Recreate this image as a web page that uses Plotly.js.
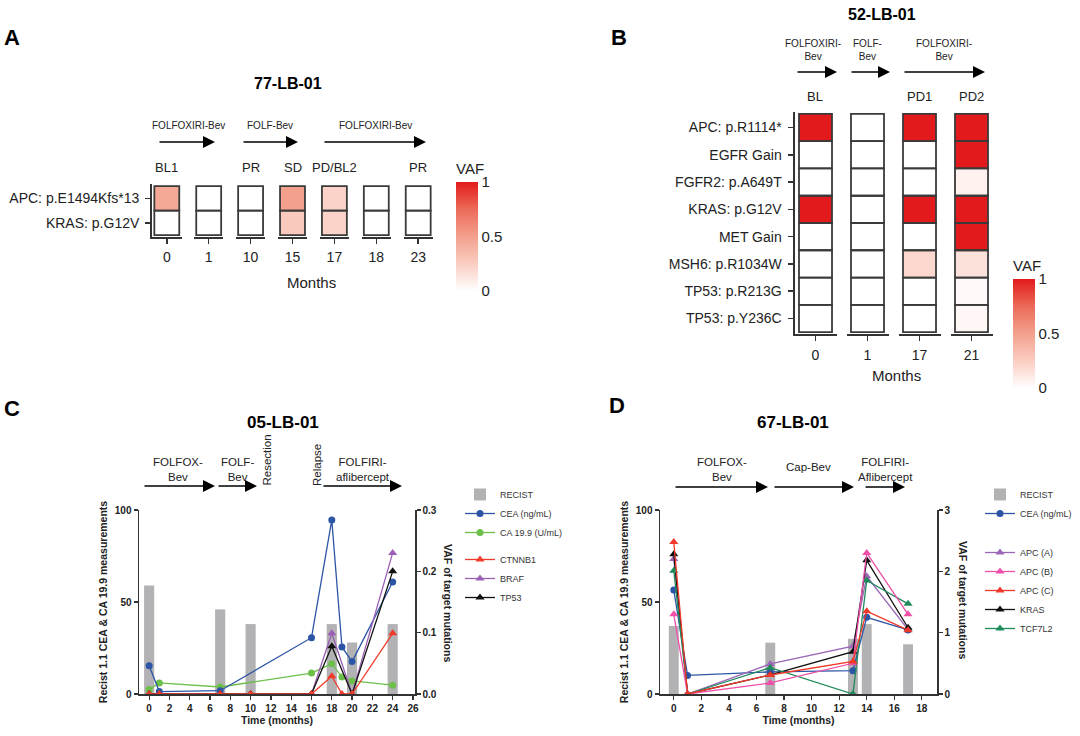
<!DOCTYPE html>
<html><head><meta charset="utf-8">
<script src="https://cdn.plot.ly/plotly-3.0.1.min.js"></script>
<style>html,body{margin:0;padding:0;background:#fff}#chart{width:1080px;height:736px}</style>
</head><body><div id="chart"></div><script>
// ================= DATA =================
// Panel A : 77-LB-01
const aMonths = ['0','1','10','15','17','18','23'];
const aStatus = ['BL1','','PR','SD','PD/BL2','','PR'];
const aGenes = ['APC: p.E1494Kfs*13','KRAS: p.G12V'];
const aAPC  = [0.45,0,0,0.5,0.22,0,0];
const aKRAS = [0,0,0,0.27,0.22,0,0];
const aTreat = ['FOLFOXIRI-Bev','FOLF-Bev','FOLFOXIRI-Bev'];

// Panel B : 52-LB-01
const bMonths = ['0','1','17','21'];
const bStatus = ['BL','','PD1','PD2'];
const bGenes = ['APC: p.R1114*','EGFR Gain','FGFR2: p.A649T','KRAS: p.G12V','MET Gain','MSH6: p.R1034W','TP53: p.R213G','TP53: p.Y236C'];
const bAPC   = [1,0,1,1];
const bEGFR  = [0,0,0,1];
const bFGFR2 = [0,0,0,0.07];
const bKRAS  = [1,0,1,1];
const bMET   = [0,0,0,1];
const bMSH6  = [0,0,0.2,0.15];
const bTP53a = [0,0,0,0.03];
const bTP53b = [0,0,0,0.04];
const bTreat = ['FOLFOXIRI-<br>Bev','FOLF-<br>Bev','FOLFOXIRI-<br>Bev'];

// Panel C : 05-LB-01
const cRecistT = [0,7,10,18,20,24];
const cRecist  = [59,46,38,38,28,38];
const cMarkT   = [0,1,7,16,18,19,20,24];
const cCea     = [15.4,1.3,1.8,30.6,94.6,25.6,17.6,60.9];
const cCa      = [2.4,6,3.8,11.4,16.5,9.2,7.1,4.8];
const cMutT    = [0,1,7,10,16,18,20,24];
const cBraf    = [0,0,0,0,0,0.099,0,0.23];
const cTp53    = [0,0,0,0,0,0.078,0,0.2];
const cCtnnbT  = [0,1,7,10,16,18,19,20,24];
const cCtnnb   = [0,0,0,0,0,0.029,0,0,0.099];
const cTreat   = ['FOLFOX-<br>Bev','FOLF-<br>Bev','FOLFIRI-<br>aflibercept'];
const cEvents  = ['Resection','Relapse'];

// Panel D : 67-LB-01
const dRecistT = [0,7,13,14,17];
const dRecist  = [37,27.9,30,38,27];
const dT       = [0,1,7,13,14,17];
const dCea     = [56.5,10.1,12,12.7,41.7,34.8];
const dApcA    = [2.2,0,0.49,0.78,1.92,1.05];
const dApcB    = [1.3,0,0.18,0.5,2.3,1.3];
const dApcC    = [2.48,0,0.31,0.53,1.35,1.04];
const dKras    = [2.28,0,0.31,0.69,2.18,1.08];
const dTcf     = [2.01,0,0.43,0,1.85,1.47];
const dTreat   = ['FOLFOX-<br>Bev','Cap-Bev','FOLFIRI-<br>Aflibercept'];

// ================= LAYOUT HELPERS =================
const W = 1080, H = 736;
const px = v => v / W;
const py = v => 1 - v / H;
const domX = (a, b) => [a / W, b / W];
const domY = (top, bot) => [1 - bot / H, 1 - top / H];
const FONT = 'Liberation Sans, Arial, Helvetica, sans-serif';
const INK = '#222';
const LINE = '#333';
const vafScale = [[0,'#ffffff'],[0.25,'#facdc1'],[0.5,'#f3a08d'],[0.75,'#ec6a58'],[1,'#e31a1c']];

const traces = [];
const layout = {
  width: W, height: H, margin: {l:0,r:0,t:0,b:0},
  paper_bgcolor: '#fff', plot_bgcolor: 'rgba(0,0,0,0)',
  font: {family: FONT, color: INK},
  showlegend: true, hovermode: false,
  annotations: [], shapes: []
};
const ann = a => layout.annotations.push(Object.assign({xref:'paper', yref:'paper', xanchor:'center', yanchor:'middle',
  showarrow:false, font:{family:FONT, color:INK}}, a));
const arrow = (x0, x1, y) => ann({x: px(x1), y: py(y), ax: -(x1 - x0), ay: 0, text: '', showarrow: true,
  arrowhead: 2, arrowsize: 1.6, arrowwidth: 1.5, arrowcolor: '#000', standoff: 0});

// ================= HEATMAP PANELS =================
function heatPanel(cfg) {
  const rowsBT = cfg.rows.slice().reverse();
  const valsBT = cfg.vals.slice().reverse();
  const yKey = 'yaxis' + cfg.yIdx;
  const yRef = 'y' + cfg.yIdx;
  cfg.months.forEach((m, i) => {
    const n = cfg.firstAxis + i;
    const xKey = 'xaxis' + (n === 1 ? '' : n);
    const xRef = 'x' + (n === 1 ? '' : n);
    const c = cfg.center0 + cfg.pitch * i;
    layout[xKey] = {
      domain: domX(c - cfg.half, c + cfg.half), anchor: yRef, type: 'category',
      range: [-0.5 - cfg.e, 0.5 + cfg.e], showline: true, linecolor: LINE, linewidth: 2,
      ticks: 'outside', ticklen: 5, tickwidth: 1.5, tickcolor: LINE,
      tickfont: {size: 14, color: INK, family: FONT}, ticklabelstandoff: cfg.xStand,
      showgrid: false, zeroline: false, fixedrange: true
    };
    traces.push({
      type: 'heatmap', x: [m], y: rowsBT, z: valsBT.map(r => [r[i]]),
      xaxis: xRef, yaxis: yRef, zmin: 0, zmax: 1, colorscale: vafScale,
      showscale: i === 0, colorbar: cfg.colorbar, showlegend: false, hoverinfo: 'skip'
    });
    rowsBT.forEach((r, k) => layout.shapes.push({type: 'rect', xref: xRef, yref: yRef,
      x0: -0.5, x1: 0.5, y0: k - 0.5, y1: k + 0.5, line: {color: '#3a3a3a', width: 1.8}, fillcolor: 'rgba(0,0,0,0)'}));
    if (cfg.status[i]) ann({x: px(c), y: py(cfg.statusY), text: cfg.status[i], font: {size: 13, family: FONT, color: INK}});
  });
  const xFirst = 'x' + (cfg.firstAxis === 1 ? '' : cfg.firstAxis);
  layout[yKey] = {
    domain: domY(cfg.yTop, cfg.yBot), anchor: xFirst, type: 'category',
    categoryorder: 'array', categoryarray: rowsBT, range: [-0.5 - cfg.ey, rowsBT.length - 0.5 + cfg.ey],
    showline: true, linecolor: LINE, linewidth: 2, ticks: 'outside', ticklen: 5, tickwidth: 1.5, tickcolor: LINE,
    tickfont: {size: 14, color: INK, family: FONT}, ticklabelstandoff: 3,
    showgrid: false, zeroline: false, fixedrange: true
  };
}

const cbar = (x, yBottom, barLen) => ({x: px(x), xanchor: 'left', xpad: 0, y: py(yBottom), yanchor: 'bottom', ypad: 0,
  len: barLen + 24, lenmode: 'pixels', thickness: 22, thicknessmode: 'pixels', outlinewidth: 0,
  tickvals: [0,0.5,1], ticktext: ['0','0.5','1'], ticks: '', tickfont: {size: 15, color: INK, family: FONT},
  title: {text: 'VAF', side: 'top', font: {size: 15, color: INK, family: FONT}}});

heatPanel({
  months: aMonths, status: aStatus, statusY: 167, rows: aGenes, vals: [aAPC, aKRAS],
  firstAxis: 1, yIdx: '', center0: 166.8, pitch: 41.9, half: 14.7, e: 0.09, ey: 0.09,
  yTop: 184, yBot: 237.4, xStand: 1, colorbar: cbar(456, 291, 107)
});
heatPanel({
  months: bMonths, status: bStatus, statusY: 96, rows: bGenes,
  vals: [bAPC, bEGFR, bFGFR2, bKRAS, bMET, bMSH6, bTP53a, bTP53b],
  firstAxis: 8, yIdx: 2, center0: 815.5, pitch: 52, half: 21, e: 0.136, ey: 0.07,
  yTop: 112, yBot: 334, xStand: 2, colorbar: cbar(1013, 388, 107)
});

// panel A annotations
ann({x: px(12), y: py(38), text: '<b>A</b>', font: {size: 22, family: FONT, color: '#000'}});
ann({x: px(288), y: py(84), text: '<b>77-LB-01</b>', font: {size: 16, family: FONT, color: '#000'}});
[[188,158,215],[270,242,298],[375,323,426]].forEach((p, i) => {
  ann({x: px(p[0]), y: py(125), text: aTreat[i], font: {size: 10, family: FONT, color: INK}});
  arrow(p[1], p[2], 142);
});
ann({x: px(312), y: py(282), text: 'Months', font: {size: 15, family: FONT, color: INK}});

// panel B annotations
ann({x: px(619), y: py(37), text: '<b>B</b>', font: {size: 22, family: FONT, color: '#000'}});
ann({x: px(882), y: py(15), text: '<b>52-LB-01</b>', font: {size: 16, family: FONT, color: '#000'}});
[[813,796,837],[867,850,890],[944,903,985]].forEach((p, i) => {
  ann({x: px(p[0]), y: py(50), text: bTreat[i], font: {size: 10, family: FONT, color: INK}});
  arrow(p[1], p[2], 72);
});
ann({x: px(896), y: py(375), text: 'Months', font: {size: 15, family: FONT, color: INK}});

// ================= LINE PANELS =================
const tickB = {size: 10, color: INK, family: FONT, weight: 'bold'};
const titleB = {size: 10.5, color: INK, family: FONT, weight: 'bold'};
function lineAxes(xKey, yL, yR, xRefS, yLRef, xd, xr, xmax, rMax, rTicks) {
  layout[xKey] = {domain: domX(xd[0], xd[1]), anchor: yLRef, range: xr,
    tickmode: 'array', tickvals: Array.from({length: xmax / 2 + 1}, (_, k) => k * 2),
    showline: true, linecolor: LINE, linewidth: 1.5, ticks: 'outside', ticklen: 4, tickwidth: 1.3, tickcolor: LINE,
    tickfont: tickB, title: {text: 'Time (months)', font: titleB, standoff: 4},
    showgrid: false, zeroline: false, fixedrange: true};
  layout[yL] = {domain: domY(510, 694), anchor: xRefS, range: [0, 100], tickvals: [0, 50, 100],
    showline: true, linecolor: LINE, linewidth: 1.5, ticks: 'outside', ticklen: 4, tickwidth: 1.3, tickcolor: LINE,
    tickfont: tickB, title: {text: 'Recist 1.1 CEA & CA 19.9 measurements', font: titleB, standoff: 5},
    showgrid: false, zeroline: false, fixedrange: true};
  layout[yR] = {overlaying: yLRef, side: 'right', anchor: xRefS, range: [0, rMax], tickvals: rTicks.v, ticktext: rTicks.t,
    showline: true, linecolor: LINE, linewidth: 1.5, ticks: 'outside', ticklen: 4, tickwidth: 1.3, tickcolor: LINE,
    tickfont: tickB, showgrid: false, zeroline: false, fixedrange: true};
}
lineAxes('xaxis12', 'yaxis3', 'yaxis4', 'x12', 'y3', [139, 415], [-1, 26.2], 26, 0.3,
  {v: [0, 0.1, 0.2, 0.3], t: ['0.0', '0.1', '0.2', '0.3']});
lineAxes('xaxis13', 'yaxis5', 'yaxis6', 'x13', 'y5', [660, 937], [-1, 19.1], 18, 3,
  {v: [0, 1, 2, 3], t: ['0', '1', '2', '3']});

const GRAY = '#b2b2b5';
const line = (name, x, y, xa, ya, color, sym, leg, group, rank) => ({
  type: 'scatter', mode: 'lines+markers', name, x, y, xaxis: xa, yaxis: ya,
  line: {color, width: 1.3}, marker: {color, symbol: sym, size: sym === 'circle' ? 7 : 8},
  cliponaxis: false, legend: leg, legendgroup: group, legendrank: rank, hoverinfo: 'skip'
});

// Panel C traces
traces.push({type: 'bar', name: 'RECIST', x: cRecistT, y: cRecist, xaxis: 'x12', yaxis: 'y3', width: 1.0,
  marker: {color: GRAY}, legend: 'legend', legendgroup: 'c1', legendrank: 1, hoverinfo: 'skip'});
traces.push(line('CA 19.9 (U/mL)', cMarkT, cCa, 'x12', 'y3', '#6cc04a', 'circle', 'legend', 'c1', 3));
traces.push(line('CEA (ng/mL)', cMarkT, cCea, 'x12', 'y3', '#2d55a6', 'circle', 'legend', 'c1', 2));
traces.push(line('BRAF', cMutT, cBraf, 'x12', 'y4', '#9b5fb5', 'triangle-up', 'legend', 'c2', 5));
traces.push(line('TP53', cMutT, cTp53, 'x12', 'y4', '#111111', 'triangle-up', 'legend', 'c2', 6));
traces.push(line('CTNNB1', cCtnnbT, cCtnnb, 'x12', 'y4', '#f03a2a', 'triangle-up', 'legend', 'c2', 4));

// Panel D traces
traces.push({type: 'bar', name: 'RECIST', x: dRecistT, y: dRecist, xaxis: 'x13', yaxis: 'y5', width: 0.72,
  marker: {color: GRAY}, legend: 'legend2', legendgroup: 'd1', legendrank: 1, hoverinfo: 'skip'});
traces.push(line('CEA (ng/mL)', dT, dCea, 'x13', 'y5', '#2d55a6', 'circle', 'legend2', 'd1', 2));
traces.push(line('APC (A)', dT, dApcA, 'x13', 'y6', '#9c66b8', 'triangle-up', 'legend2', 'd2', 3));
traces.push(line('KRAS', dT, dKras, 'x13', 'y6', '#111111', 'triangle-up', 'legend2', 'd2', 6));
traces.push(line('TCF7L2', dT, dTcf, 'x13', 'y6', '#1f8a5a', 'triangle-up', 'legend2', 'd2', 7));
traces.push(line('APC (B)', dT, dApcB, 'x13', 'y6', '#ee4fa8', 'triangle-up', 'legend2', 'd2', 4));
traces.push(line('APC (C)', dT, dApcC, 'x13', 'y6', '#f0392b', 'triangle-up', 'legend2', 'd2', 5));

const legBase = {xanchor: 'left', yanchor: 'top', font: {size: 9, color: '#333', family: FONT},
  bgcolor: 'rgba(0,0,0,0)', traceorder: 'grouped', itemwidth: 30, borderwidth: 0};
layout.legend = Object.assign({}, legBase, {x: px(460), y: py(480), tracegroupgap: 8});
layout.legend2 = Object.assign({}, legBase, {x: px(980), y: py(480), tracegroupgap: 20});

// Panel C annotations
ann({x: px(12), y: py(408), text: '<b>C</b>', font: {size: 22, family: FONT, color: '#000'}});
ann({x: px(283), y: py(422), text: '<b>05-LB-01</b>', font: {size: 17, family: FONT, color: '#000'}});
[[178,143,215],[237,217,257],[363,322,402]].forEach((p, i) => {
  ann({x: px(p[0]), y: py(469), text: cTreat[i], font: {size: 11.5, family: FONT, color: INK}});
  arrow(p[1], p[2], 486);
});
[[267],[317]].forEach((p, i) => ann({x: px(p[0]), y: py(488), yanchor: 'bottom', textangle: -90,
  text: cEvents[i], font: {size: 11.5, family: FONT, color: INK}}));
ann({x: px(448), y: py(603), textangle: 90, text: '<b>VAF of target mutations</b>', font: {size: 10.5, family: FONT, color: INK}});

// Panel D annotations
ann({x: px(617), y: py(406), text: '<b>D</b>', font: {size: 22, family: FONT, color: '#000'}});
ann({x: px(793), y: py(422), text: '<b>67-LB-01</b>', font: {size: 17, family: FONT, color: '#000'}});
[[722,674,768,469],[808,773,854,467],[885,864,905,469]].forEach((p, i) => {
  ann({x: px(p[0]), y: py(p[3]), text: dTreat[i], font: {size: 11.5, family: FONT, color: INK}});
  arrow(p[1], p[2], 487);
});
ann({x: px(963), y: py(600), textangle: 90, text: '<b>VAF of target mutations</b>', font: {size: 10.5, family: FONT, color: INK}});

Plotly.newPlot('chart', traces, layout, {displayModeBar: false, staticPlot: true});
</script></body></html>
